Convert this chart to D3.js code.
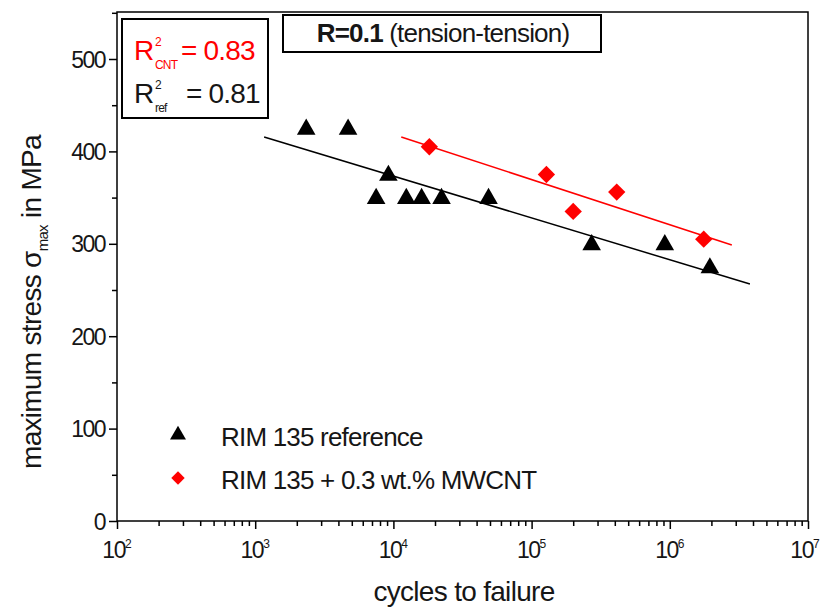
<!DOCTYPE html>
<html><head><meta charset="utf-8">
<script src="https://cdn.jsdelivr.net/npm/d3@7"></script>
<style>
body{margin:0;background:#fff;}
text{font-family:"Liberation Sans",Arial,sans-serif;}
</style></head><body>
<svg id="c" width="822" height="608"></svg>
<script>
// Data
const refCycles = [2.34e3, 4.7e3, 9.2e3, 7.5e3, 1.24e4, 1.6e4, 2.23e4, 4.88e4, 2.72e5, 9.2e5, 1.95e6];
const refStress = [425, 425, 375, 350, 350, 350, 350, 350, 300, 300, 275];
const cntCycles = [1.82e4, 1.28e5, 2.0e5, 4.13e5, 1.76e6];
const cntStress = [405, 375, 335, 356, 305];
const refFitCycles = [1.16e3, 3.8e6];
const refFitStress = [415.6, 256.5];
const cntFitCycles = [1.14e4, 2.81e6];
const cntFitStress = [415.6, 298.7];
const yTicks = [0, 100, 200, 300, 400, 500];
const xExponents = [2, 3, 4, 5, 6, 7];
const legendLabels = ["RIM 135 reference", "RIM 135 + 0.3 wt.% MWCNT"];

const svg = d3.select("#c");
const L = 117, R = 808, T = 12, B = 521;
const x = d3.scaleLog().domain([1e2, 1e7]).range([L, R]);
const y = d3.scaleLinear().domain([0, 500]).range([B, 59]);
const ink = "#161616";

// frame
svg.append("rect").attr("x", L).attr("y", T).attr("width", R - L).attr("height", B - T)
  .attr("fill", "none").attr("stroke", "#000").attr("stroke-width", 1.5);

// x ticks
const minorX = [];
for (let e = 2; e < 7; e++) for (let m = 2; m <= 9; m++) minorX.push(m * Math.pow(10, e));
const xAxis = d3.axisBottom(x).tickValues(minorX).tickSize(5).tickFormat("");
svg.append("g").attr("transform", `translate(0,${B})`).call(xAxis)
  .call(g => { g.select(".domain").remove(); g.selectAll("line").attr("stroke-width", 1.5); });
const xMajor = d3.axisBottom(x).tickValues(xExponents.map(e => Math.pow(10, e))).tickSize(8).tickFormat("");
svg.append("g").attr("transform", `translate(0,${B})`).call(xMajor)
  .call(g => { g.select(".domain").remove(); g.selectAll("line").attr("stroke-width", 1.5); });
xExponents.forEach(e => {
  const t = svg.append("text").attr("x", x(Math.pow(10, e)) - (e === 7 ? 3 : 0)).attr("y", 558)
    .attr("text-anchor", "middle").attr("font-size", 23).attr("letter-spacing", -1.5).attr("fill", ink);
  t.append("tspan").text("10");
  t.append("tspan").attr("dy", -10).attr("font-size", 12).attr("letter-spacing", 0).text(e);
});

// y ticks
const yMinor = d3.axisLeft(y).tickValues([50, 150, 250, 350, 450, 550].filter(v => y(v) >= T)).tickSize(5).tickFormat("");
svg.append("g").attr("transform", `translate(${L},0)`).call(yMinor)
  .call(g => { g.select(".domain").remove(); g.selectAll("line").attr("stroke-width", 1.5); });
const yAxis = d3.axisLeft(y).tickValues(yTicks).tickSize(8).tickPadding(4);
svg.append("g").attr("transform", `translate(${L},0)`).call(yAxis)
  .call(g => {
    g.select(".domain").remove();
    g.selectAll("line").attr("stroke-width", 1.5);
    g.selectAll("text").attr("font-size", 23).attr("letter-spacing", -1.5).attr("fill", ink)
      .attr("font-family", "'Liberation Sans',Arial,sans-serif").attr("dy", "0.35em");
  });

// axis titles
svg.append("text").attr("x", 464).attr("y", 601).attr("text-anchor", "middle")
  .attr("font-size", 28).attr("letter-spacing", -0.7).attr("fill", ink).text("cycles to failure");
const yt = svg.append("text").attr("transform", "translate(41,302) rotate(-90)")
  .attr("text-anchor", "middle").attr("font-size", 28).attr("letter-spacing", -0.7).attr("fill", ink);
yt.append("tspan").text("maximum stress σ");
yt.append("tspan").attr("dy", 7).attr("font-size", 15).text("max");
yt.append("tspan").attr("dy", -7).text(" in MPa");

// fit lines
const line = d3.line().x(d => x(d[0])).y(d => y(d[1]));
svg.append("path").datum(d3.zip(refFitCycles, refFitStress)).attr("d", line)
  .attr("stroke", "#000").attr("stroke-width", 1.5).attr("fill", "none");
svg.append("path").datum(d3.zip(cntFitCycles, cntFitStress)).attr("d", line)
  .attr("stroke", "#ff0000").attr("stroke-width", 1.5).attr("fill", "none");

// symbols
const tri = d3.symbol().type(d3.symbolTriangle).size(150);
const dia = d3.symbol().type(d3.symbolSquare).size(150);
svg.append("g").selectAll("path").data(d3.zip(refCycles, refStress)).join("path")
  .attr("d", tri).attr("transform", d => `translate(${x(d[0])},${y(d[1]) + 1})`).attr("fill", "#000");
svg.append("g").selectAll("path").data(d3.zip(cntCycles, cntStress)).join("path")
  .attr("d", dia).attr("transform", d => `translate(${x(d[0])},${y(d[1])}) rotate(45)`).attr("fill", "#ff0000");

// legend
svg.append("path").attr("d", d3.symbol().type(d3.symbolTriangle).size(110)())
  .attr("transform", "translate(178,435)").attr("fill", "#000");
svg.append("path").attr("d", d3.symbol().type(d3.symbolSquare).size(90)())
  .attr("transform", "translate(178,478) rotate(45)").attr("fill", "#ff0000");
svg.append("text").attr("x", 221).attr("y", 446).attr("font-size", 26).attr("letter-spacing", -0.8)
  .attr("fill", ink).text(legendLabels[0]);
svg.append("text").attr("x", 221).attr("y", 489).attr("font-size", 26).attr("letter-spacing", -0.8)
  .attr("fill", ink).text(legendLabels[1]);

// R^2 box
svg.append("rect").attr("x", 122).attr("y", 19).attr("width", 146).attr("height", 99)
  .attr("fill", "#fff").attr("stroke", "#000").attr("stroke-width", 2);
function rLabel(yBase, sub, value, color, valX) {
  svg.append("text").attr("x", 134).attr("y", yBase).attr("font-size", 28).attr("fill", color).text("R");
  svg.append("text").attr("x", 155).attr("y", yBase - 14).attr("font-size", 12).attr("fill", color).text("2");
  svg.append("text").attr("x", 155).attr("y", yBase + 9).attr("font-size", 12).attr("letter-spacing", -0.8)
    .attr("fill", color).text(sub);
  svg.append("text").attr("x", valX).attr("y", yBase).attr("font-size", 28).attr("letter-spacing", -0.8)
    .attr("fill", color).text(value);
}
rLabel(60, "CNT", "= 0.83", "#ff0000", 181);
rLabel(103, "ref", "= 0.81", ink, 186);

// title box
svg.append("rect").attr("x", 283).attr("y", 15).attr("width", 318).attr("height", 37)
  .attr("fill", "#fff").attr("stroke", "#000").attr("stroke-width", 2);
const tt = svg.append("text").attr("x", 443).attr("y", 42).attr("text-anchor", "middle")
  .attr("font-size", 26).attr("letter-spacing", -0.8).attr("fill", ink);
tt.append("tspan").attr("font-weight", "bold").text("R=0.1");
tt.append("tspan").text(" (tension-tension)");
</script>
</body></html>
